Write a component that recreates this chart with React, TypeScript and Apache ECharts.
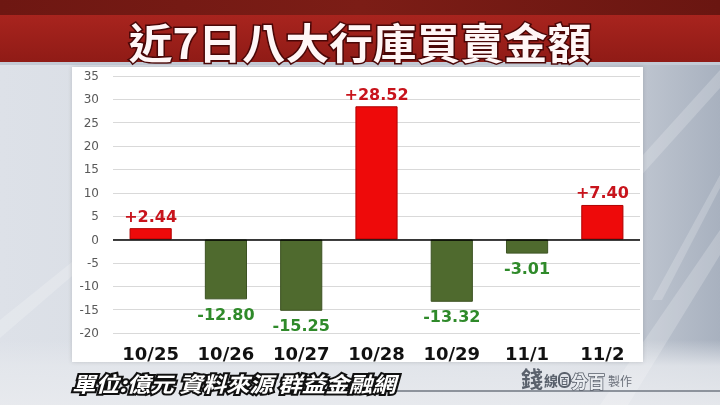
import React, { useEffect, useRef } from "react";
import * as echarts from "echarts";

const title = "近7日八大行庫買賣金額";
const caption = "單位:億元 資料來源 群益金融網";
const categories = ["10/25", "10/26", "10/27", "10/28", "10/29", "11/1", "11/2"];
const values = [2.44, -12.8, -15.25, 28.52, -13.32, -3.01, 7.4];
const yMin = -20;
const yMax = 35;
const yStep = 5;

const fmt = (v: number) => (v > 0 ? "+" : "") + v.toFixed(2);

export default function App() {
  const ref = useRef<HTMLDivElement>(null);
  useEffect(() => {
    if (!ref.current) return;
    const chart = echarts.init(ref.current, undefined, { renderer: "svg" });

    const streaks = [
      [[600, 405], [720, 230], [720, 255], [628, 405]],
      [[652, 300], [720, 175], [720, 188], [662, 300]],
      [[575, 230], [720, 70], [720, 88], [592, 230]],
      [[0, 320], [72, 262], [72, 276], [0, 338]],
    ];

    const txt = (
      text: string,
      x: number,
      y: number,
      extra: Record<string, unknown>,
      align = "left"
    ) => ({
      type: "text",
      z: 20,
      x,
      y,
      style: {
        text,
        fontFamily: "Noto Sans CJK TC",
        align,
        verticalAlign: "middle",
        textAlign: align,
        textVerticalAlign: "middle",
        ...extra,
      },
    });

    chart.setOption({
      animation: false,
      graphic: [
        {
          type: "rect",
          z: -20,
          shape: { x: 0, y: 0, width: 720, height: 405 },
          style: {
            fill: {
              type: "linear",
              x: 0,
              y: 0,
              x2: 1,
              y2: 0,
              colorStops: [
                { offset: 0, color: "#dde1e8" },
                { offset: 0.75, color: "#d0d5dd" },
                { offset: 0.9, color: "#bcc3ce" },
                { offset: 1, color: "#a8b1bf" },
              ],
            },
          },
        },
        {
          type: "rect",
          z: -19,
          shape: { x: 0, y: 340, width: 720, height: 65 },
          style: {
            fill: {
              type: "linear",
              x: 0,
              y: 0,
              x2: 0,
              y2: 1,
              colorStops: [
                { offset: 0, color: "rgba(228,231,236,0)" },
                { offset: 0.4, color: "rgba(228,231,236,0.85)" },
                { offset: 1, color: "rgba(232,234,238,0.95)" },
              ],
            },
          },
        },
        ...streaks.map((pts) => ({
          type: "polygon",
          z: -18,
          shape: { points: pts },
          style: { fill: "rgba(255,255,255,0.2)" },
        })),
        {
          type: "rect",
          z: -15,
          shape: { x: 0, y: 0, width: 720, height: 15 },
          style: {
            fill: {
              type: "linear",
              x: 0,
              y: 0,
              x2: 1,
              y2: 0,
              colorStops: [
                { offset: 0, color: "#6e1712" },
                { offset: 0.5, color: "#7c1d16" },
                { offset: 1, color: "#6a1611" },
              ],
            },
          },
        },
        {
          type: "rect",
          z: -15,
          shape: { x: 0, y: 15, width: 720, height: 47 },
          style: {
            fill: {
              type: "linear",
              x: 0,
              y: 0,
              x2: 0,
              y2: 1,
              colorStops: [
                { offset: 0, color: "#a8241e" },
                { offset: 1, color: "#901b16" },
              ],
            },
          },
        },
        {
          type: "rect",
          z: -15,
          shape: { x: 0, y: 62, width: 720, height: 3 },
          style: { fill: "#c3cad5" },
        },
        {
          type: "rect",
          z: -10,
          shape: { x: 72, y: 67, width: 571, height: 295 },
          style: {
            fill: "#ffffff",
            shadowColor: "rgba(0,0,0,0.15)",
            shadowBlur: 4,
          },
        },
        {
          type: "text",
          z: 20,
          x: 360,
          y: 40,
          scaleX: 1.04,
          style: {
            text: title,
            fontSize: 42,
            fontWeight: "bold",
            fontFamily: "Noto Sans CJK TC",
            fill: "#fff6f6",
            stroke: "#4a0707",
            lineWidth: 3,
            align: "center",
            verticalAlign: "middle",
            textAlign: "center",
            textVerticalAlign: "middle",
            shadowColor: "rgba(60,0,0,0.8)",
            shadowBlur: 2,
            shadowOffsetX: 1,
            shadowOffsetY: 2,
          },
        },
        {
          type: "line",
          z: 5,
          shape: { x1: 380, y1: 391, x2: 720, y2: 391 },
          style: { stroke: "#8d939c", lineWidth: 2 },
        },
        {
          type: "text",
          z: 20,
          x: 72,
          y: 383,
          scaleX: 1.12,
          style: {
            text: caption,
            fontSize: 21,
            fontWeight: "bold",
            fontStyle: "italic",
            fontFamily: "Noto Sans CJK TC",
            fill: "#ffffff",
            stroke: "#111111",
            lineWidth: 4,
            align: "left",
            verticalAlign: "middle",
            textAlign: "left",
            textVerticalAlign: "middle",
          },
        },
        txt("錢", 521, 377, { fontSize: 22, fontWeight: "bold", fill: "#5a616c" }),
        txt("線", 544, 380, { fontSize: 14, fontWeight: "bold", fill: "#5a616c" }),
        {
          type: "rect",
          z: 20,
          shape: { x: 559, y: 373, width: 11, height: 14, r: 5 },
          style: { fill: "none", stroke: "#5a616c", lineWidth: 2 },
        },
        txt("百", 564.5, 380, { fontSize: 8, fontWeight: "bold", fill: "#5a616c" }, "center"),
        txt("分百", 571, 380, {
          fontSize: 17,
          fontWeight: "bold",
          fill: "#e9ecf0",
          stroke: "#5a616c",
          lineWidth: 1.5,
        }),
        txt("製作", 608, 380, { fontSize: 12, fill: "#6b717b" }),
      ],
      grid: {
        left: 113,
        right: 80,
        top: 76,
        bottom: 72,
        containLabel: false,
      },
      xAxis: {
        type: "category",
        data: categories,
        axisLine: { show: false, onZero: false },
        axisTick: { show: false },
        axisLabel: {
          color: "#111111",
          fontSize: 18,
          fontWeight: "bold",
          fontFamily: "DejaVu Sans",
          margin: 11,
        },
      },
      yAxis: {
        type: "value",
        min: yMin,
        max: yMax,
        interval: yStep,
        axisLine: { show: false },
        axisTick: { show: false },
        axisLabel: {
          color: "#595959",
          fontSize: 12,
          fontFamily: "DejaVu Sans",
          margin: 14,
        },
        splitLine: { lineStyle: { color: "#d9d9d9", width: 1 } },
      },
      series: [
        {
          type: "bar",
          barWidth: "56%",
          data: values.map((v) => ({
            value: v,
            itemStyle: {
              color: v >= 0 ? "#ee0a0a" : "#4f6a2e",
              borderColor: v >= 0 ? "#b00000" : "#3c5222",
              borderWidth: 1,
            },
            label: {
              show: true,
              position: v >= 0 ? "top" : "bottom",
              distance: v >= 0 ? 4 : 7,
              formatter: fmt(v),
              color: v >= 0 ? "#c8141c" : "#2f8a2a",
              fontSize: 16,
              fontWeight: "bold",
              fontFamily: "DejaVu Sans",
            },
          })),
          markLine: {
            silent: true,
            symbol: "none",
            label: { show: false },
            lineStyle: { color: "#000000", width: 1.5, type: "solid" },
            data: [{ yAxis: 0 }],
          },
        },
      ],
    });
    return () => chart.dispose();
  }, []);
  return (
    <div
      ref={ref}
      style={{ position: "fixed", left: 0, top: 0, width: 720, height: 405 }}
    />
  );
}
